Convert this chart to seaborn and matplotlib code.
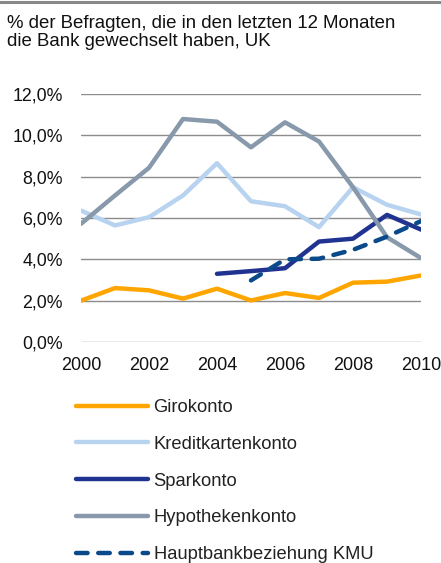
import matplotlib
matplotlib.use("Agg")
import matplotlib.pyplot as plt
import seaborn as sns
from matplotlib.ticker import FuncFormatter
from matplotlib.lines import Line2D

# Daten
years = list(range(2000, 2011))
giro = [2.0, 2.61, 2.50, 2.10, 2.58, 2.01, 2.37, 2.13, 2.87, 2.92, 3.22]
kredit = [6.36, 5.64, 6.04, 7.09, 8.65, 6.81, 6.57, 5.56, 7.49, 6.64, 6.17]
hypo = [5.72, 7.09, 8.43, 10.79, 10.66, 9.42, 10.63, 9.70, 7.49, 5.07, 4.06]
spar_years = list(range(2004, 2011))
spar = [3.30, 3.43, 3.57, 4.86, 5.00, 6.15, 5.44]
kmu_years = list(range(2005, 2011))
kmu = [2.98, 4.00, 4.03, 4.46, 5.10, 5.85]

title = "% der Befragten, die in den letzten 12 Monaten\ndie Bank gewechselt haben, UK"
labels = ["Girokonto", "Kreditkartenkonto", "Sparkonto", "Hypothekenkonto",
          "Hauptbankbeziehung KMU"]
colors = ["#FFA500", "#B7D3F0", "#213390", "#8799AB", "#0B4A8A"]

sns.set_theme(style="white")
plt.rcParams['font.family'] = ['Liberation Sans', 'DejaVu Sans']

fig = plt.figure(figsize=(4.41, 5.63), dpi=100)
W, H = 441, 563
ax = fig.add_axes([81 / W, 1 - 342 / H, 340 / W, 248 / H])

lw = 3.2
kw = dict(lw=lw, solid_capstyle="round", dash_capstyle="round")
sns.lineplot(x=years, y=giro, ax=ax, color=colors[0], label=labels[0], **kw)
sns.lineplot(x=years, y=kredit, ax=ax, color=colors[1], label=labels[1], **kw)
sns.lineplot(x=spar_years, y=spar, ax=ax, color=colors[2], label=labels[2], **kw)
sns.lineplot(x=years, y=hypo, ax=ax, color=colors[3], label=labels[3], **kw)
sns.lineplot(x=kmu_years, y=kmu, ax=ax, color=colors[4], label=labels[4],
             linestyle=(0, (2.6, 2.4)), **kw)

ax.set_xlim(2000, 2010)
ax.set_ylim(0, 12)
ax.set_yticks(range(0, 13, 2))
ax.set_xticks(range(2000, 2011, 2))
ax.yaxis.set_major_formatter(FuncFormatter(lambda v, p: f"{v:.1f}%".replace(".", ",")))
ax.grid(axis="y", color="#8c8c8c", lw=1.0)
ax.set_axisbelow(True)
for s in ax.spines.values():
    s.set_visible(False)
ax.tick_params(axis="y", length=0, pad=13, labelsize=12.8, colors="#111111")
ax.tick_params(axis="x", length=0, pad=11, labelsize=13, colors="#111111")

ax.legend(loc="upper left", bbox_to_anchor=(76 / W, 1 - 399 / H),
          bbox_transform=fig.transFigure, frameon=False, fontsize=13.2,
          handlelength=3.9, handletextpad=0.33, labelspacing=1.08,
          borderpad=0, borderaxespad=0, labelcolor="#222222")

fig.add_artist(Line2D([0, 1], [1 - 1.5 / H, 1 - 1.5 / H], color="#888888", lw=2.2,
                      transform=fig.transFigure))
fig.text(7 / W, 1 - 15 / H, title, ha="left", va="top", fontsize=13.4,
         color="#111111", linespacing=1.06)

fig.savefig("out.png", dpi=100)
